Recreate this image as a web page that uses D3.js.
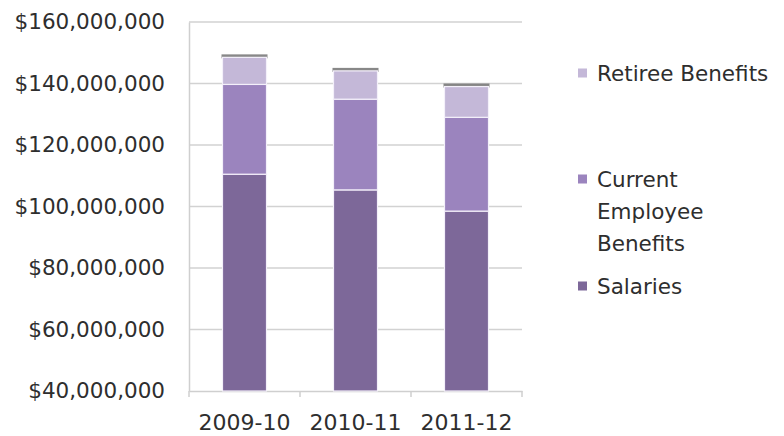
<!DOCTYPE html>
<html>
<head>
<meta charset="utf-8">
<script src="https://cdn.jsdelivr.net/npm/d3@7"></script>
<style>
  body { margin: 0; background: #fff; }
  text { font-family: "DejaVu Sans", sans-serif; fill: #2e2e2e; }
</style>
</head>
<body>
<div id="chart"></div>
<script>
const years = ["2009-10", "2010-11", "2011-12"]
const salaries = [110500000, 105400000, 98500000]
const currentBenefits = [29200000, 29500000, 30500000]
const retireeBenefits = [8800000, 9200000, 10000000]
const yTicks = [40000000, 60000000, 80000000, 100000000, 120000000, 140000000, 160000000]
const seriesNames = ["Salaries", "Current Employee Benefits", "Retiree Benefits"]
const seriesColors = ["#7d6899", "#9b84be", "#c4b8d8"]

drawChart("#chart")

function drawChart(id){
    const canvas = createCanvas()
    const svg = d3.select(id).append("svg")
        .attr("width", canvas.width).attr("height", canvas.height)

    const rows = years.map((y, i) => ({
        year: y, Salaries: salaries[i],
        "Current Employee Benefits": currentBenefits[i],
        "Retiree Benefits": retireeBenefits[i]
    }))
    const stacked = d3.stack().keys(seriesNames)(rows)

    const x = d3.scaleBand().domain(years)
        .range([canvas.margin.left, canvas.width - canvas.margin.right])
    const y = d3.scaleLinear().domain([40000000, 160000000])
        .range([canvas.height - canvas.margin.bottom, canvas.margin.top])
    const yb = v => y(Math.max(v, y.domain()[0]))

    // grid
    svg.append("g").selectAll("line").data(yTicks.slice(1)).join("line")
        .attr("x1", canvas.margin.left).attr("x2", canvas.width - canvas.margin.right)
        .attr("y1", d => y(d)).attr("y2", d => y(d))
        .attr("stroke", "#d2d2d2").attr("stroke-width", 1.5)

    // axes
    const yAxis = svg.append("g").attr("transform", `translate(${canvas.margin.left},0)`)
        .call(d3.axisLeft(y).tickValues(yTicks).tickSize(0).tickPadding(24)
            .tickFormat(d => "$" + d3.format(",")(d)))
    yAxis.select(".domain").attr("stroke", "#cfcfcf").attr("stroke-width", 1.5)
    yAxis.selectAll("text").attr("font-size", 21.5).attr("font-family", null)

    const xAxis = svg.append("g").attr("transform", `translate(0,${canvas.height - canvas.margin.bottom})`)
        .call(d3.axisBottom(x).tickSize(0).tickPadding(23))
    xAxis.select(".domain").attr("stroke", "#cfcfcf").attr("stroke-width", 1.5)
    xAxis.selectAll("text").attr("font-size", 22).attr("font-family", null)
    svg.append("g").selectAll("line").data(years.map(yy => x(yy)).concat([x(years[2]) + x.bandwidth()])).join("line")
        .attr("x1", d => d).attr("x2", d => d)
        .attr("y1", y(40000000)).attr("y2", y(40000000) + 6)
        .attr("stroke", "#cfcfcf").attr("stroke-width", 1.5)

    // bar shadow on top
    const barW = 44
    const bx = d => x(d.data.year) + (x.bandwidth() - barW) / 2
    svg.append("g").selectAll("rect").data(stacked[2]).join("rect")
        .attr("x", d => bx(d) - 1).attr("width", barW + 2)
        .attr("y", d => y(d[1]) - 3).attr("height", 4)
        .attr("fill", "#555").attr("opacity", 0.7)

    svg.append("g").selectAll("g").data(stacked).join("g")
        .attr("fill", (d, i) => seriesColors[i])
        .selectAll("rect").data(d => d).join("rect")
        .attr("x", bx).attr("width", barW)
        .attr("y", d => yb(d[1])).attr("height", d => yb(d[0]) - yb(d[1]))
        .attr("stroke", "#f4f0fa").attr("stroke-width", 1.2)

    // legend
    const legend = [
        { i: 2, lines: ["Retiree Benefits"], y: 73 },
        { i: 1, lines: ["Current", "Employee", "Benefits"], y: 179 },
        { i: 0, lines: ["Salaries"], y: 286 }
    ]
    const lg = svg.append("g")
    legend.forEach(l => {
        lg.append("rect").attr("x", 578).attr("y", l.y - 4.5).attr("width", 9).attr("height", 9)
            .attr("fill", seriesColors[l.i])
        l.lines.forEach((t, k) => {
            lg.append("text").attr("x", 597).attr("y", l.y + k * 32)
                .attr("dy", "0.35em").attr("font-size", 21.5).text(t)
        })
    })
}

function createCanvas(){
    return {
        width: 784, height: 436, margin: { top: 22, bottom: 45, right: 262, left: 189 }
    }
}
</script>
</body>
</html>
